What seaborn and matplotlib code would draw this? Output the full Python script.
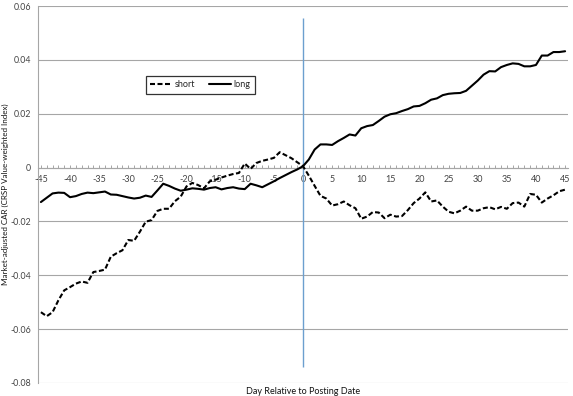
import numpy as np
import pandas as pd
import matplotlib
matplotlib.use("Agg")
import matplotlib.pyplot as plt
import seaborn as sns

days = list(range(-45, 46))

short = [
    -0.0537, -0.0552, -0.0537, -0.0493, -0.0456, -0.0444, -0.0431, -0.0423, -0.0428, -0.0388,
    -0.0384, -0.0379, -0.0331, -0.0318, -0.0307, -0.0269, -0.0272, -0.0238, -0.0201, -0.0195,
    -0.0161, -0.0153, -0.0153, -0.0125, -0.0108, -0.0070, -0.0057, -0.0065, -0.0077, -0.0051,
    -0.0045, -0.0037, -0.0030, -0.0024, -0.0020, 0.0015, -0.0005, 0.0017, 0.0025, 0.0030,
    0.0036, 0.0057, 0.0046, 0.0035, 0.0020, 0.0005, -0.0030, -0.0068, -0.0105, -0.0115,
    -0.0141, -0.0136, -0.0126, -0.0140, -0.0151, -0.0190, -0.0182, -0.0165, -0.0167, -0.0188,
    -0.0175, -0.0182, -0.0180, -0.0158, -0.0132, -0.0115, -0.0092, -0.0126, -0.0122, -0.0145,
    -0.0164, -0.0170, -0.0160, -0.0145, -0.0160, -0.0160, -0.0151, -0.0147, -0.0155, -0.0146,
    -0.0153, -0.0132, -0.0130, -0.0145, -0.0098, -0.0101, -0.0130, -0.0115, -0.0103, -0.0088,
    -0.0082,
]

long = [
    -0.0128, -0.0112, -0.0096, -0.0093, -0.0094, -0.0110, -0.0106, -0.0098, -0.0093, -0.0095,
    -0.0092, -0.0089, -0.0100, -0.0101, -0.0106, -0.0111, -0.0115, -0.0112, -0.0104, -0.0109,
    -0.0085, -0.0060, -0.0068, -0.0078, -0.0086, -0.0082, -0.0077, -0.0079, -0.0082, -0.0076,
    -0.0073, -0.0081, -0.0076, -0.0073, -0.0078, -0.0080, -0.0060, -0.0066, -0.0073, -0.0062,
    -0.0051, -0.0039, -0.0028, -0.0017, -0.0007, 0.0005, 0.0030, 0.0067, 0.0086, 0.0086,
    0.0084, 0.0098, 0.0110, 0.0123, 0.0119, 0.0146, 0.0154, 0.0158, 0.0173, 0.0189,
    0.0198, 0.0202, 0.0210, 0.0217, 0.0227, 0.0229, 0.0239, 0.0252, 0.0257, 0.0269,
    0.0274, 0.0276, 0.0277, 0.0285, 0.0304, 0.0323, 0.0345, 0.0358, 0.0357, 0.0373,
    0.0381, 0.0387, 0.0385, 0.0376, 0.0376, 0.0381, 0.0416, 0.0416, 0.0429, 0.0429,
    0.0432,
]

series_names = ["short", "long"]
x_tick_labels = list(range(-45, 46, 5))
y_ticks = [-0.08, -0.06, -0.04, -0.02, 0.0, 0.02, 0.04, 0.06]
y_tick_labels = ["-0.08", "-0.06", "-0.04", "-0.02", "0", "0.02", "0.04", "0.06"]

event_day = 0
event_line_top = 0.0555
event_line_bottom = -0.074

df = pd.DataFrame({
    "day": days * 2,
    "car": short + long,
    "series": ["short"] * len(days) + ["long"] * len(days),
})

sns.set_style("white")
plt.rcParams["font.family"] = ["Lato", "DejaVu Sans"]
plt.rcParams["axes.unicode_minus"] = False

W, H = 573, 396
fig = plt.figure(figsize=(W / 100, H / 100), dpi=100)
ax = fig.add_axes([38 / W, 1 - 383 / H, 530 / W, 377 / H])

grid_color = "#A6A6A6"
for yv in y_ticks:
    ax.axhline(yv, color=grid_color, lw=0.8, zorder=0)

ax.vlines(event_day, event_line_bottom, event_line_top, color="#6C9FCF", lw=1.0, zorder=1)

sns.lineplot(
    data=df, x="day", y="car", hue="series", style="series",
    hue_order=series_names, style_order=series_names,
    palette={"short": "black", "long": "black"},
    dashes={"short": (2.4, 1.2), "long": ""},
    linewidth=1.5, ax=ax, zorder=3,
)

ax.set_xlim(-45.5, 45.5)
ax.set_ylim(-0.08, 0.06)

for s in ["top", "right"]:
    ax.spines[s].set_visible(False)
ax.spines["left"].set_color(grid_color)
ax.spines["left"].set_linewidth(0.8)
ax.spines["bottom"].set_position(("data", 0))
ax.spines["bottom"].set_color(grid_color)
ax.spines["bottom"].set_linewidth(0.8)

ax.set_xticks(x_tick_labels)
ax.set_xticklabels([str(v) for v in x_tick_labels])
ax.set_xticks(days, minor=True)
ax.tick_params(axis="x", which="both", direction="in", length=2.5, color=grid_color,
               width=0.7, labelsize=6.5, labelcolor="#444444", pad=5, bottom=True)
ax.set_yticks(y_ticks)
ax.set_yticklabels(y_tick_labels)
ax.tick_params(axis="y", which="both", length=0, labelsize=6.3, labelcolor="#444444", pad=5, left=False)

ax.set_xlabel("Day Relative to Posting Date", fontsize=6.5, color="#111111")
ax.xaxis.set_label_coords(0.5, -0.01)
ax.set_ylabel("Market-adjusted CAR (CRSP Value-weighted Index)", fontsize=5.8, color="#111111")
ax.yaxis.set_label_coords(-0.055, 0.5)

leg = ax.legend(
    title=None, loc="center", ncol=2,
    bbox_to_anchor=(0.198, 0.761, 0.217, 0.059),
    fontsize=6.5, handlelength=2.4, columnspacing=1.6, handletextpad=0.3,
    frameon=True, fancybox=False, borderpad=0.5,
)
leg.get_frame().set_edgecolor("black")
leg.get_frame().set_linewidth(0.9)
leg.get_frame().set_facecolor("white")

fig.savefig("out.png", dpi=100)
